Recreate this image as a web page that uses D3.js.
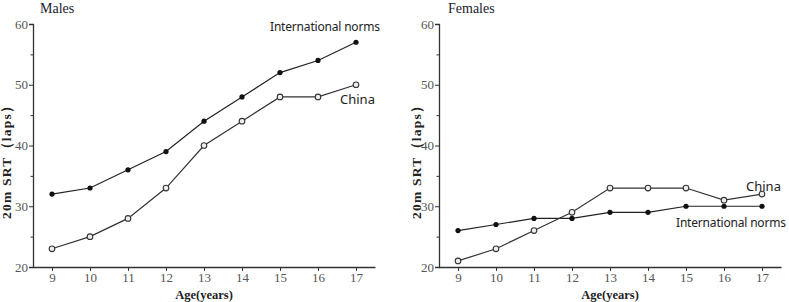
<!DOCTYPE html>
<html>
<head>
<meta charset="utf-8">
<script src="https://cdn.jsdelivr.net/npm/d3@7"></script>
<style>
  body { margin: 0; background: #fff; }
  svg { display: block; }
  .tick text { font-family: "Liberation Serif", "DejaVu Serif", serif; fill: #555; font-size: 13px; }
  .domain, .tick line { stroke: #333; }
</style>
</head>
<body>
<svg id="chart" width="789" height="302"></svg>
<script>
const width = 789;
const height = 302;

const ages = [9, 10, 11, 12, 13, 14, 15, 16, 17];
const yTicks = [20, 30, 40, 50, 60];
const yMinorTicks = [25, 35, 45, 55];

const malesIntl = [32, 33, 36, 39, 44, 48, 52, 54, 57];
const malesChina = [23, 25, 28, 33, 40, 44, 48, 48, 50];
const femalesIntl = [26, 27, 28, 28, 29, 29, 30, 30, 30];
const femalesChina = [21, 23, 26, 29, 33, 33, 33, 31, 32];

const svg = d3.select("#chart");

const panels = [
  {
    title: "Males", x0: 33, x1: 375, titleX: 40, labelX: 11,
    intl: malesIntl, china: malesChina,
    intlLabel: [270, 31], chinaLabel: [340, 104]
  },
  {
    title: "Females", x0: 439, x1: 781, titleX: 448, labelX: 421,
    intl: femalesIntl, china: femalesChina,
    intlLabel: [676, 227], chinaLabel: [746, 191]
  }
];

const y = d3.scaleLinear().domain([20, 60]).range([267, 24]);

panels.forEach((p) => {
  const g = svg.append("g");
  const x = d3.scaleLinear().domain([8.5, 17.5]).range([p.x0, p.x1]);

  // y axis
  g.append("g")
    .attr("transform", `translate(${p.x0},0)`)
    .call(d3.axisLeft(y).tickValues(yTicks).tickSize(4).tickPadding(1).tickFormat(d3.format("d")));

  g.append("g")
    .attr("transform", `translate(${p.x0},0)`)
    .call(d3.axisLeft(y).tickValues(yMinorTicks).tickSize(2.5).tickFormat(""))
    .call((a) => a.select(".domain").remove());

  // x axis
  g.append("g")
    .attr("transform", `translate(0,${y(20)})`)
    .call(d3.axisBottom(x).tickValues(ages).tickSize(4).tickPadding(2).tickSizeOuter(0));

  g.selectAll(".domain").attr("stroke-width", 1.3);

  g.append("text")
    .attr("x", p.titleX)
    .attr("y", 13)
    .attr("font-family", "Liberation Serif, serif")
    .attr("font-size", 14)
    .attr("fill", "#1a1a2e")
    .text(p.title);

  g.append("text")
    .attr("transform", `translate(${p.labelX},159) rotate(-90)`)
    .attr("text-anchor", "middle")
    .attr("font-family", "Liberation Serif, serif")
    .attr("font-weight", "bold")
    .attr("font-size", 13.5)
    .attr("fill", "#222")
    .attr("textLength", 120)
    .text("20m SRT（laps）");

  g.append("text")
    .attr("x", (p.x0 + p.x1) / 2)
    .attr("y", 299)
    .attr("text-anchor", "middle")
    .attr("font-family", "Liberation Serif, serif")
    .attr("font-weight", "bold")
    .attr("font-size", 12.5)
    .attr("fill", "#222")
    .text("Age(years)");

  const line = d3.line().x((d, i) => x(ages[i])).y((d) => y(d));

  g.append("path").datum(p.intl)
    .attr("d", line).attr("fill", "none").attr("stroke", "#222").attr("stroke-width", 1.2);
  g.append("path").datum(p.china)
    .attr("d", line).attr("fill", "none").attr("stroke", "#333").attr("stroke-width", 1.2);

  g.selectAll(".intl").data(p.intl).enter().append("circle")
    .attr("cx", (d, i) => x(ages[i])).attr("cy", (d) => y(d))
    .attr("r", 2.6).attr("fill", "#111");

  g.selectAll(".china").data(p.china).enter().append("circle")
    .attr("cx", (d, i) => x(ages[i])).attr("cy", (d) => y(d))
    .attr("r", 2.8).attr("fill", "#eee").attr("stroke", "#333").attr("stroke-width", 1.1);

  g.append("text")
    .attr("x", p.intlLabel[0]).attr("y", p.intlLabel[1])
    .attr("font-family", "Noto Sans, sans-serif")
    .attr("font-size", 12).attr("fill", "#222")
    .attr("textLength", 110)
    .text("International norms");

  g.append("text")
    .attr("x", p.chinaLabel[0]).attr("y", p.chinaLabel[1])
    .attr("font-family", "Noto Sans, sans-serif")
    .attr("font-size", 13).attr("fill", "#222")
    .text("China");
});
</script>
</body>
</html>
